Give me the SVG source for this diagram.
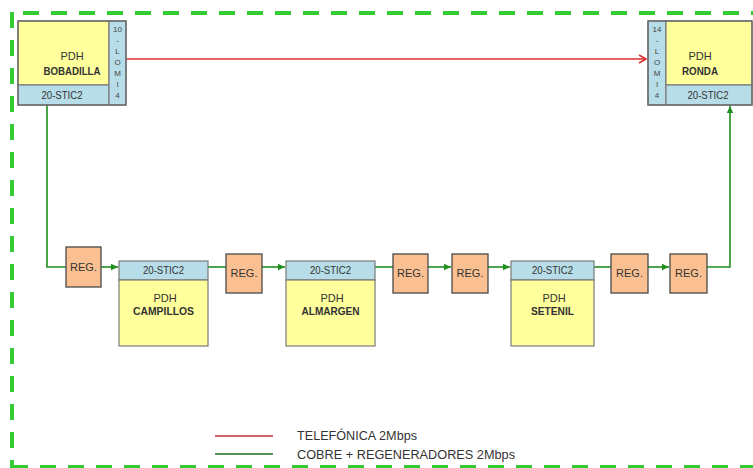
<svg xmlns="http://www.w3.org/2000/svg" width="753" height="468" viewBox="0 0 753 468">
<style>
text{font-family:"Liberation Sans",Arial,sans-serif;fill:#333;}
.t{font-size:11px;text-anchor:middle;}
.b{font-weight:bold;}
.v{font-size:8px;text-anchor:middle;fill:#444;}
.yel{fill:#ffff9c;stroke:#7a7a7a;stroke-width:1.2;}
.cy{fill:#b7dde8;stroke:#7a7a7a;stroke-width:1.2;}
.reg{fill:#fac091;stroke:#4a4a4a;stroke-width:1.3;}
.g{stroke:#1f8f1f;stroke-width:1.6;fill:none;}
.r{stroke:#e03030;stroke-width:1.6;fill:none;}
.bd{stroke:#33cc33;stroke-width:4;fill:none;stroke-dasharray:16 12;}
.lg{font-size:12.5px;}
</style>
<defs>
<marker id="ag" markerWidth="8" markerHeight="8" refX="7" refY="4" orient="auto" markerUnits="userSpaceOnUse">
<path d="M0,0.8 L7,4 L0,7.2 Z" fill="#1f8f1f"/>
</marker>
<marker id="ar" markerWidth="10" markerHeight="10" refX="8" refY="5" orient="auto" markerUnits="userSpaceOnUse">
<path d="M1,1 L8,5 L1,9" fill="none" stroke="#e03030" stroke-width="1.6"/>
</marker>
</defs>
<rect width="753" height="468" fill="#fff"/>
<g id="border">
<path class="bd" d="M23 13 H760"/>
<path class="bd" d="M12 12 V470"/>
<path class="bd" d="M12 467 H760"/>
</g>
<g id="connectors">
<path class="r" d="M126 59 H646" marker-end="url(#ar)"/>
<path class="g" d="M47 105 V267 H66"/>
<path class="g" d="M101 267 H118" marker-end="url(#ag)"/>
<path class="g" d="M208 267 H226"/>
<path class="g" d="M262 267 H285" marker-end="url(#ag)"/>
<path class="g" d="M375 267 H393"/>
<path class="g" d="M428 267 H451" marker-end="url(#ag)"/>
<path class="g" d="M488 267 H510" marker-end="url(#ag)"/>
<path class="g" d="M594 267 H611"/>
<path class="g" d="M648 267 H669" marker-end="url(#ag)"/>
<path class="g" d="M707 267 H730 V106" marker-end="url(#ag)"/>
</g>
<g id="bobadilla">
<rect class="yel" x="18" y="21" width="91" height="64"/>
<rect class="cy" x="18" y="85" width="91" height="20"/>
<rect class="cy" x="109" y="21" width="17" height="84"/>
<rect x="18" y="21" width="108" height="84" fill="none" stroke="#666" stroke-width="1.3"/>
<text class="t" x="72" y="60">PDH</text>
<text class="t b" x="72" y="75" textLength="57" lengthAdjust="spacingAndGlyphs">BOBADILLA</text>
<text class="t" x="62" y="99" textLength="41" lengthAdjust="spacingAndGlyphs">20-STIC2</text>
<text class="v" x="117.5" y="32">10</text>
<text class="v" x="117.5" y="43">-</text>
<text class="v" x="117.5" y="54">L</text>
<text class="v" x="117.5" y="65">O</text>
<text class="v" x="117.5" y="76">M</text>
<text class="v" x="117.5" y="87">I</text>
<text class="v" x="117.5" y="98">4</text>
</g>
<g id="ronda">
<rect class="cy" x="648" y="21" width="18" height="84"/>
<rect class="yel" x="666" y="21" width="86" height="64"/>
<rect class="cy" x="666" y="85" width="86" height="20"/>
<rect x="648" y="21" width="104" height="84" fill="none" stroke="#666" stroke-width="1.3"/>
<text class="t" x="700" y="60">PDH</text>
<text class="t b" x="700" y="75" textLength="36" lengthAdjust="spacingAndGlyphs">RONDA</text>
<text class="t" x="708" y="99" textLength="41" lengthAdjust="spacingAndGlyphs">20-STIC2</text>
<text class="v" x="657" y="32">14</text>
<text class="v" x="657" y="43">-</text>
<text class="v" x="657" y="54">L</text>
<text class="v" x="657" y="65">O</text>
<text class="v" x="657" y="76">M</text>
<text class="v" x="657" y="87">I</text>
<text class="v" x="657" y="98">4</text>
</g>
<g id="campillos">
<rect class="cy" x="119" y="261" width="89" height="19"/>
<rect class="yel" x="119" y="280" width="89" height="66"/>
<text class="t" x="163.5" y="274" textLength="41" lengthAdjust="spacingAndGlyphs">20-STIC2</text>
<text class="t" x="165" y="302">PDH</text>
<text class="t b" x="163.5" y="315" textLength="61" lengthAdjust="spacingAndGlyphs">CAMPILLOS</text>
</g>
<g id="almargen">
<rect class="cy" x="286" y="261" width="89" height="19"/>
<rect class="yel" x="286" y="280" width="89" height="66"/>
<text class="t" x="330.5" y="274" textLength="41" lengthAdjust="spacingAndGlyphs">20-STIC2</text>
<text class="t" x="332" y="302">PDH</text>
<text class="t b" x="330.5" y="315" textLength="58" lengthAdjust="spacingAndGlyphs">ALMARGEN</text>
</g>
<g id="setenil">
<rect class="cy" x="511" y="261" width="83" height="19"/>
<rect class="yel" x="511" y="280" width="83" height="66"/>
<text class="t" x="552.5" y="274" textLength="41" lengthAdjust="spacingAndGlyphs">20-STIC2</text>
<text class="t" x="554" y="302">PDH</text>
<text class="t b" x="552.5" y="315" textLength="43" lengthAdjust="spacingAndGlyphs">SETENIL</text>
</g>
<g id="reg1"><rect class="reg" x="66" y="247" width="35" height="40"/><text class="t" x="83.5" y="271">REG.</text></g>
<g id="reg2"><rect class="reg" x="226" y="254" width="36" height="39"/><text class="t" x="244" y="277">REG.</text></g>
<g id="reg3"><rect class="reg" x="393" y="254" width="35" height="39"/><text class="t" x="410.5" y="277">REG.</text></g>
<g id="reg4"><rect class="reg" x="452" y="254" width="36" height="39"/><text class="t" x="470" y="277">REG.</text></g>
<g id="reg5"><rect class="reg" x="611" y="254" width="37" height="39"/><text class="t" x="629.5" y="277">REG.</text></g>
<g id="reg6"><rect class="reg" x="670" y="254" width="37" height="39"/><text class="t" x="688.5" y="277">REG.</text></g>
<g id="legend">
<line x1="215" y1="436" x2="273" y2="436" stroke="#c03030" stroke-width="1.6"/>
<line x1="215" y1="454" x2="273" y2="454" stroke="#1f6f1f" stroke-width="1.6"/>
<text class="lg" x="297" y="440" textLength="120" lengthAdjust="spacingAndGlyphs">TELEFÓNICA 2Mbps</text>
<text class="lg" x="297" y="459" textLength="218" lengthAdjust="spacingAndGlyphs">COBRE + REGENERADORES 2Mbps</text>
</g>
</svg>
